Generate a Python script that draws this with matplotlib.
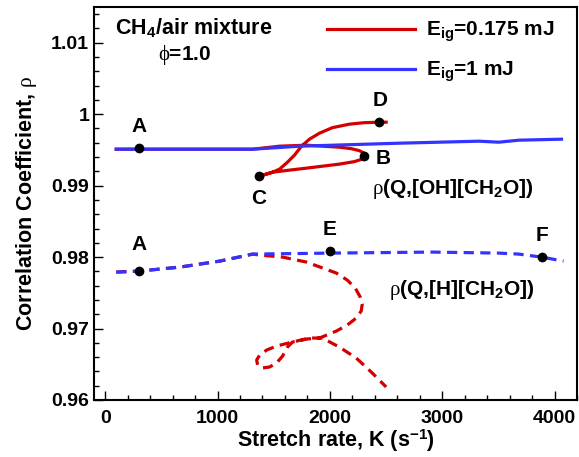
import matplotlib
matplotlib.use("Agg")
import matplotlib.pyplot as plt
from matplotlib.ticker import MultipleLocator

plt.rcParams['font.family'] = 'Liberation Sans'
plt.rcParams['font.weight'] = 'bold'
plt.rcParams['axes.labelweight'] = 'bold'
plt.rcParams['mathtext.fontset'] = 'custom'
plt.rcParams['mathtext.rm'] = 'Liberation Sans:weight=bold'
plt.rcParams['mathtext.it'] = 'Liberation Serif:weight=normal'
plt.rcParams['mathtext.bf'] = 'Liberation Sans:weight=bold'

# rho(Q,[OH][CH2O]) vs stretch rate
k_oh_red = [98, 302, 843, 1313, 1552, 1792, 2084, 2191, 2262, 2306, 2315, 2288,
            2217, 2084, 1792, 1490, 1375, 1419, 1481, 1552, 1623, 1685, 1747,
            1818, 1907, 2022, 2173, 2306, 2439, 2501]
rho_oh_red = [0.99510, 0.99510, 0.99510, 0.99510, 0.99552, 0.99566, 0.99538,
              0.99517, 0.99490, 0.99455, 0.99413, 0.99371, 0.99336, 0.99301,
              0.99245, 0.99189, 0.99133, 0.99154, 0.99182, 0.99231, 0.99329,
              0.99427, 0.99552, 0.99650, 0.99734, 0.99811, 0.99860, 0.99881,
              0.99888, 0.99888]
k_oh_blue = [98, 1313, 1730, 2616, 3326, 3503, 3681, 4062]
rho_oh_blue = [0.99510, 0.99510, 0.99552, 0.99594, 0.99622, 0.99608, 0.99636,
               0.99650]

# rho(Q,[H][CH2O]) vs stretch rate
k_h_red = [98, 302, 665, 1020, 1313, 1375, 1579, 1792, 2058, 2155, 2226, 2270,
           2288, 2279, 2235, 2155, 2058, 1907, 1792, 1667, 1623, 1579, 1525,
           1463, 1401, 1357, 1348, 1375, 1437, 1525, 1667, 1818, 1933, 2084,
           2235, 2377, 2501]
rho_h_red = [0.97790, 0.97804, 0.97860, 0.97944, 0.98042, 0.98028, 0.98000,
             0.97930, 0.97776, 0.97678, 0.97566, 0.97441, 0.97343, 0.97245,
             0.97147, 0.97049, 0.96965, 0.96867, 0.96853, 0.96811, 0.96741,
             0.96615, 0.96517, 0.96462, 0.96448, 0.96490, 0.96559, 0.96629,
             0.96699, 0.96755, 0.96811, 0.96867, 0.96867, 0.96741, 0.96587,
             0.96378, 0.96182]
k_h_blue = [98, 302, 665, 1020, 1313, 2022, 2909, 3503, 3681, 3885, 4080]
rho_h_blue = [0.97790, 0.97804, 0.97860, 0.97944, 0.98042, 0.98056, 0.98070,
              0.98056, 0.98042, 0.98000, 0.97944]

# labelled states
pt_names = ['A', 'B', 'C', 'D', 'A', 'E', 'F']
pt_k = [302, 2306, 1370, 2440, 302, 2000, 3890]
pt_rho = [0.9952, 0.9942, 0.9913, 0.9989, 0.9780, 0.9809, 0.9800]
lbl_k = [302, 2474, 1366, 2448, 302, 1996, 3885]
lbl_rho = [0.99832, 0.99385, 0.98825, 1.00196, 0.98182, 0.98392, 0.98308]

red = '#d40000'
blue = '#3333ff'

fig = plt.figure(figsize=(5.79, 4.57), dpi=100)
ax = fig.add_axes([94 / 579, 1 - 400 / 457, 483 / 579, 393 / 457])

ax.plot(k_oh_red, rho_oh_red, color=red, lw=2.3, label=r'E$_\mathrm{ig}$=0.175 mJ')
ax.plot(k_oh_blue, rho_oh_blue, color=blue, lw=2.3, label=r'E$_\mathrm{ig}$=1 mJ')
ax.plot(k_h_red, rho_h_red, color=red, lw=2.3, dashes=(3.2, 2))
ax.plot(k_h_blue, rho_h_blue, color=blue, lw=2.3, dashes=(3.2, 2))

ax.plot(pt_k, pt_rho, 'o', color='black', ms=6, zorder=5)
for name, x, y in zip(pt_names, lbl_k, lbl_rho):
    ax.text(x, y, name, fontsize=15, ha='center', va='center')

ax.text(89, 1.01217, r'CH$_4$/air mixture', fontsize=15.5, va='center')
ax.text(710, 1.00825, r'$\phi$=1.0', fontsize=15, ha='center', va='center')
ax.text(2377, 0.98951, r'$\rho$(Q,[OH][CH$_2$O])', fontsize=15, va='center')
ax.text(2528, 0.97538, r'$\rho$(Q,[H][CH$_2$O])', fontsize=15, va='center')

ax.legend(loc='upper left', bbox_to_anchor=(327 / 579, 1 - 20 / 457),
          bbox_transform=fig.transFigure, frameon=False, fontsize=15,
          handlelength=4.2, handletextpad=0.55, labelspacing=0.75,
          borderpad=0, borderaxespad=0)

ax.set_xlim(-100, 4200)
ax.set_ylim(0.96, 1.015)
ax.xaxis.set_major_locator(MultipleLocator(1000))
ax.xaxis.set_minor_locator(MultipleLocator(200))
ax.yaxis.set_major_locator(MultipleLocator(0.01))
ax.yaxis.set_minor_locator(MultipleLocator(0.002))
ax.yaxis.set_major_formatter(plt.FuncFormatter(lambda v, p: f'{v:.2f}'.rstrip('0').rstrip('.')))
ax.tick_params(which='both', direction='in', labelsize=14, width=1)
ax.tick_params(which='major', length=6.5)
ax.tick_params(which='minor', length=3.6)
ax.tick_params(axis='x', pad=7)
for s in ax.spines.values():
    s.set_linewidth(1.5)

ax.set_xlabel(r'Stretch rate, K (s$^{-1}$)', fontsize=15.5, labelpad=0.5)
ax.set_ylabel(r'Correlation Coefficient, $\rho$', fontsize=15.5, labelpad=9)

fig.savefig('out.png', dpi=100)
